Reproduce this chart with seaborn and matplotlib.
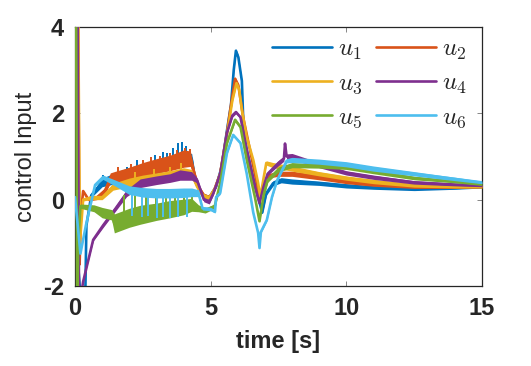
import numpy as np
import pandas as pd
import matplotlib
matplotlib.use("Agg")
import matplotlib.pyplot as plt
import seaborn as sns

# ---------------- data ----------------
labels = ["$u_1$", "$u_2$", "$u_3$", "$u_4$", "$u_5$", "$u_6$"]
colors = ["#0072BD", "#D95319", "#EDB120", "#7E2F8E", "#77AC30", "#4DBEEE"]

u1_t = [0, 0.1, 0.25, 0.37, 0.42, 0.6, 1.0, 1.5, 2.0, 2.5, 3.0, 3.5, 4.0, 4.3, 4.45, 4.7, 4.95, 5.2, 5.4, 5.6,
        5.75, 5.85, 5.93, 6.02, 6.15, 6.22, 6.35, 6.57, 6.75, 6.9, 7.05, 7.3, 7.6, 8.0, 9.0, 10.0, 11.0, 12.5, 14.0, 15.0]
u1_y = [0, -1.4, -2.6, -2.6, -0.6, 0.1, 0.4, 0.5, 0.6, 0.68, 0.76, 0.84, 0.95, 0.95, 0.4, 0.1, 0.05, 0.3, 0.75, 1.6,
        2.2, 3.0, 3.45, 3.3, 2.75, 1.5, 1.1, 0.5, 0.05, -0.3, 0.15, 0.38, 0.45, 0.42, 0.38, 0.32, 0.28, 0.25, 0.27, 0.3]
u1_w = [0, 0, 0, 0, 0, 0.05, 0.1, 0.13, 0.15, 0.15, 0.15, 0.15, 0.15, 0.12, 0.05, 0.05, 0.05, 0.03, 0.03, 0.03,
        0.05, 0.05, 0.05, 0.05, 0.03, 0.03, 0.03, 0.03, 0.03, 0.03, 0.05, 0.06, 0.06, 0.06, 0.05, 0.05, 0.04, 0.04, 0.03, 0.03]

u2_t = [0, 0.11, 0.17, 0.22, 0.3, 0.5, 0.8, 1.1, 1.3, 1.5, 2.0, 2.5, 3.0, 3.5, 4.0, 4.25, 4.4, 4.55, 4.75, 4.95,
        5.15, 5.35, 5.6, 5.75, 5.9, 6.02, 6.2, 6.45, 6.7, 6.8, 6.95, 7.1, 7.5, 8.0, 9.0, 10.0, 11.0, 12.5, 14.0, 15.0]
u2_y = [5, 4.5, -1.5, -0.3, 0.2, 0.0, 0.05, 0.2, 0.5, 0.52, 0.6, 0.7, 0.78, 0.85, 0.95, 0.95, 0.6, 0.3, 0.1, 0.05,
        0.25, 0.6, 1.55, 2.2, 2.8, 2.65, 1.9, 1.15, 0.38, 0.0, 0.3, 0.55, 0.6, 0.6, 0.52, 0.42, 0.36, 0.3, 0.29, 0.3]
u2_w = [0, 0, 0, 0, 0.03, 0.03, 0.05, 0.08, 0.12, 0.14, 0.15, 0.16, 0.17, 0.18, 0.2, 0.18, 0.1, 0.05, 0.05, 0.05,
        0.04, 0.03, 0.03, 0.04, 0.05, 0.04, 0.03, 0.03, 0.03, 0.03, 0.03, 0.05, 0.06, 0.06, 0.06, 0.05, 0.05, 0.04, 0.03, 0.03]

u3_t = [0, 0.12, 0.18, 0.3, 0.6, 1.0, 1.4, 2.0, 2.5, 3.0, 3.5, 4.0, 4.3, 4.5, 4.7, 4.95, 5.15, 5.35, 5.6, 5.8,
        5.95, 6.05, 6.15, 6.33, 6.57, 6.75, 6.83, 6.95, 7.05, 7.3, 8.0, 9.0, 10.0, 11.0, 12.5, 14.0, 15.0]
u3_y = [4.8, 4.2, -1.0, 0.0, 0.05, 0.05, 0.3, 0.4, 0.45, 0.5, 0.55, 0.62, 0.6, 0.3, 0.1, 0.05, 0.25, 0.6, 1.5, 2.3,
        2.7, 2.55, 2.08, 1.45, 0.92, 0.38, 0.06, 0.5, 0.85, 0.8, 0.72, 0.6, 0.5, 0.42, 0.33, 0.3, 0.3]
u3_w = [0, 0, 0, 0.03, 0.05, 0.05, 0.08, 0.1, 0.12, 0.12, 0.12, 0.12, 0.1, 0.05, 0.05, 0.04, 0.03, 0.03, 0.03, 0.04,
        0.04, 0.04, 0.03, 0.03, 0.03, 0.03, 0.03, 0.03, 0.05, 0.06, 0.06, 0.05, 0.05, 0.05, 0.04, 0.03, 0.03]

u4_t = [0, 0.1, 0.15, 0.3, 0.67, 1.03, 1.5, 1.9, 2.4, 3.0, 3.5, 3.87, 4.3, 4.5, 4.75, 4.95, 5.1, 5.35, 5.6, 5.8,
        5.93, 6.1, 6.33, 6.63, 6.8, 6.95, 7.1, 7.5, 7.7, 7.74, 7.8, 8.0, 9.0, 10.0, 11.0, 12.5, 14.0, 15.0]
u4_y = [4.8, 4.0, -2.5, -1.9, -0.93, -0.6, -0.2, 0.15, 0.38, 0.45, 0.5, 0.57, 0.55, 0.45, 0.0, -0.05, 0.15, 0.6, 1.55, 1.95,
        2.03, 1.91, 1.15, 0.3, -0.08, 0.3, 0.6, 0.85, 0.95, 1.3, 1.0, 1.0, 0.8, 0.62, 0.52, 0.4, 0.35, 0.33]
u4_w = [0, 0, 0, 0, 0.03, 0.05, 0.06, 0.08, 0.1, 0.1, 0.1, 0.12, 0.1, 0.06, 0.05, 0.05, 0.04, 0.03, 0.03, 0.04,
        0.04, 0.03, 0.03, 0.03, 0.03, 0.03, 0.04, 0.06, 0.06, 0.03, 0.06, 0.07, 0.06, 0.05, 0.05, 0.04, 0.03, 0.03]

u5_t = [0, 0.04, 0.08, 0.12, 0.2, 0.7, 1.0, 1.35, 1.45, 2.0, 2.4, 3.0, 3.5, 4.0, 4.3, 4.55, 4.8, 5.15, 5.35, 5.6, 5.9,
        6.1, 6.33, 6.63, 6.8, 6.95, 7.1, 7.5, 8.0, 9.0, 10.0, 11.0, 12.5, 14.0, 15.0]
u5_y = [5, 4.5, -2.5, -1.0, -0.15, -0.2, -0.3, -0.35, -0.55, -0.42, -0.35, -0.28, -0.22, -0.17, -0.12, -0.2, -0.25, -0.15, 0.38, 1.31, 1.85,
        1.68, 0.92, 0.06, -0.5, 0.1, 0.45, 0.7, 0.8, 0.78, 0.75, 0.65, 0.5, 0.42, 0.36]
u5_w = [0, 0, 0, 0, 0.05, 0.08, 0.12, 0.12, 0.22, 0.22, 0.22, 0.2, 0.2, 0.18, 0.15, 0.08, 0.06, 0.05, 0.03, 0.03, 0.04,
        0.04, 0.03, 0.03, 0.03, 0.04, 0.05, 0.06, 0.06, 0.05, 0.05, 0.05, 0.04, 0.03, 0.03]

u6_t = [0, 0.2, 0.4, 0.74, 1.03, 1.5, 2.0, 2.5, 3.0, 3.5, 4.0, 4.3, 4.55, 4.7, 5.0, 5.16, 5.2, 5.35, 5.6, 5.83,
        6.1, 6.33, 6.57, 6.75, 6.8, 6.85, 7.07, 7.26, 7.45, 7.8, 8.0, 9.0, 10.0, 11.0, 12.5, 14.0, 15.0]
u6_y = [0.06, -1.25, -0.6, 0.34, 0.52, 0.38, 0.22, 0.17, 0.15, 0.15, 0.16, 0.17, 0.15, -0.2, -0.22, -0.28, 0.06, 0.15, 1.08, 1.5,
        1.31, 0.6, -0.3, -0.77, -1.12, -0.75, -0.47, 0.06, 0.45, 0.9, 0.92, 0.88, 0.82, 0.72, 0.6, 0.48, 0.4]
u6_w = [0, 0, 0, 0.03, 0.05, 0.07, 0.1, 0.11, 0.11, 0.11, 0.11, 0.1, 0.08, 0.04, 0.04, 0.03, 0.03, 0.03, 0.03, 0.03,
        0.03, 0.03, 0.03, 0.03, 0.02, 0.03, 0.03, 0.03, 0.03, 0.05, 0.06, 0.06, 0.06, 0.06, 0.05, 0.04, 0.03]

# spikes (time, tip value)
u1_spike_t = [1.03, 1.9, 2.29, 2.65, 2.95, 3.24, 3.39, 3.61, 3.8, 3.94, 4.1]
u1_spike_v = [0.57, 0.76, 0.92, 0.8, 1.03, 1.1, 1.08, 1.2, 1.31, 1.34, 1.25]
u2_spike_t = [1.6, 2.05, 2.5, 2.8, 3.15, 3.5, 3.75, 4.05, 4.25]
u2_spike_v = [0.75, 0.82, 0.92, 0.98, 1.02, 1.08, 1.15, 1.2, 1.18]
u3_spike_t = [2.2, 2.9, 3.5, 3.9]
u3_spike_v = [0.65, 0.72, 0.75, 0.85]
u5_spike_t = [1.8, 2.2, 2.6, 3.0, 3.35, 3.7, 4.0, 4.3]
u5_spike_v = [0.1, 0.15, 0.2, 0.2, 0.25, 0.2, 0.25, 0.2]
u6_spike_t = [2.1, 2.47, 2.69, 3.02, 3.24, 3.5, 3.8, 4.13]
u6_spike_v = [-0.38, -0.4, -0.38, -0.42, -0.4, -0.42, -0.4, -0.4]

x_ticks = [0, 5, 10, 15]
y_ticks = [-2, 0, 2, 4]

# ---------------- plotting ----------------
sns.set_style("ticks")
plt.rcParams["font.family"] = ["Liberation Sans", "DejaVu Sans"]
plt.rcParams["mathtext.fontset"] = "cm"
plt.rcParams["axes.unicode_minus"] = False

fig = plt.figure(figsize=(5.31, 3.66), dpi=100)
ax = fig.add_axes([75 / 531, 1 - 286 / 366, 407 / 531, 259 / 366])

series = [
    (u1_t, u1_y, u1_w, u1_spike_t, u1_spike_v),
    (u2_t, u2_y, u2_w, u2_spike_t, u2_spike_v),
    (u3_t, u3_y, u3_w, u3_spike_t, u3_spike_v),
    (u4_t, u4_y, u4_w, [], []),
    (u5_t, u5_y, u5_w, u5_spike_t, u5_spike_v),
    (u6_t, u6_y, u6_w, u6_spike_t, u6_spike_v),
]

for i, (t, y, w, st, sv) in enumerate(series):
    z = 2 + i
    t = np.asarray(t, float)
    y = np.asarray(y, float)
    w = np.asarray(w, float)
    col = colors[i]
    ax.fill_between(t, y - w, y + w, color=col, lw=0, zorder=z)
    df = pd.DataFrame({"t": t, "u": y})
    sns.lineplot(data=df, x="t", y="u", ax=ax, color=col, lw=1.9, sort=False,
                 estimator=None, label=labels[i], zorder=z)
    if len(st):
        base = np.interp(st, t, y)
        ax.vlines(st, base, sv, colors=col, lw=1.4, zorder=z)

ax.set_xlim(0, 15)
ax.set_ylim(-2, 4)
ax.set_xticks(x_ticks)
ax.set_yticks(y_ticks)
ax.tick_params(direction="in", length=3.5, width=0.6, color="0.45",
               top=True, right=True, labelsize=17, pad=8)
for lab in ax.get_xticklabels() + ax.get_yticklabels():
    lab.set_fontweight("bold")
for s in ax.spines.values():
    s.set_linewidth(0.9)
    s.set_color("#262626")
    s.set_visible(True)

ax.set_xlabel("time [s]", fontsize=17, fontweight="bold", labelpad=7)
ax.set_ylabel("control Input", fontsize=17, labelpad=4)

handles, labs = ax.get_legend_handles_labels()
order = [0, 2, 4, 1, 3, 5]  # row-major layout: u1 u2 / u3 u4 / u5 u6
ax.legend([handles[k] for k in order], [labs[k] for k in order],
          loc="upper right", ncol=2, frameon=False, fontsize=18,
          handlelength=2.4, handletextpad=0.25, columnspacing=0.55,
          labelspacing=0.35, bbox_to_anchor=(1.0, 1.02), borderaxespad=0.2)

fig.savefig("out.png", dpi=100)
